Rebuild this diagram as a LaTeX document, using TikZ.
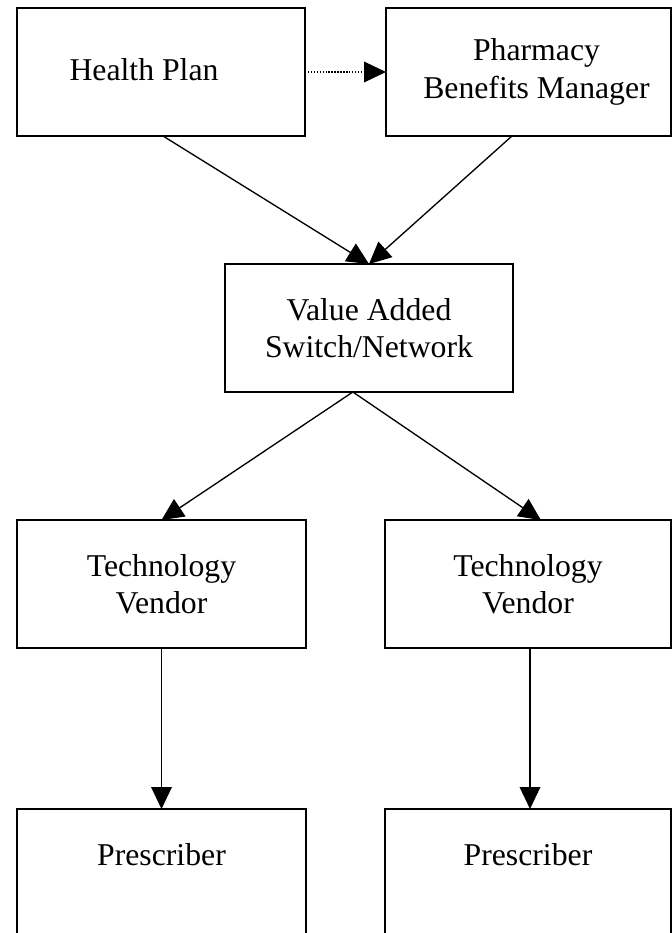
\documentclass[tikz,border=0pt]{standalone}
\usepackage{fontspec}
\setmainfont{Liberation Serif}
\usetikzlibrary{arrows.meta,calc}
\def\px{0.75pt}
\begin{document}
\begin{tikzpicture}[x=0.75pt,y=-0.75pt,
  box/.style={draw=black,line width=1.1pt,rectangle,outer sep=0pt,inner sep=0pt,
    align=center,font=\fontsize{23.8pt}{28pt}\selectfont},
  arr/.style={line width=1pt,-{Triangle[length=16.5pt,width=15.5pt]}},
  dotarr/.style={line width=1pt,dash pattern=on 1.1pt off 1.1pt,-{Triangle[length=16.5pt,width=15.5pt]}}]
\useasboundingbox (0,0) rectangle (672,933);
\clip (0,0) rectangle (672,933);
\fill[white] (0,0) rectangle (672,933);
\node[box,minimum width=288*\px,minimum height=128*\px,text height=12pt,text depth=0pt] (hp) at (161,72) {Health Plan\hspace*{25.5pt}};
\node[box,minimum width=285*\px,minimum height=128*\px] (pbm) at (528.5,72) {\hspace*{12pt}Pharmacy\\\hspace*{12pt}Benefits Manager};
\node[box,minimum width=288*\px,minimum height=128*\px] (vas) at (369,328) {Value Added\\Switch/Network};
\node[box,minimum width=289*\px,minimum height=128*\px] (tvl) at (161.5,584) {Technology\\Vendor};
\node[box,minimum width=286*\px,minimum height=128*\px] (tvr) at (528,584) {Technology\\Vendor};
\node[box,anchor=north,minimum width=289*\px,text height=20*\px,text depth=80*\px,inner ysep=36*\px] (pl) at (161.5,809) {Prescriber};
\node[box,anchor=north,minimum width=286*\px,text height=20*\px,text depth=80*\px,inner ysep=36*\px] (pr) at (528,809) {Prescriber};
\draw[dotarr] (hp.east) -- (pbm.west);
\draw[arr] ($(hp.south west)!0.507!(hp.south east)$) -- (vas.north);
\draw[arr] ($(pbm.south west)!0.442!(pbm.south east)$) -- (vas.north);
\coordinate (vb) at ($(vas.south west)!0.444!(vas.south east)$);
\draw[arr] (vb) -- (tvl.north);
\draw[arr] (vb) -- ($(tvr.north west)!0.545!(tvr.north east)$);
\draw[arr] (tvl.south) -- (pl.north);
\draw[arr] ($(tvr.south west)!0.507!(tvr.south east)$) -- ($(pr.north west)!0.507!(pr.north east)$);
\end{tikzpicture}
\end{document}
